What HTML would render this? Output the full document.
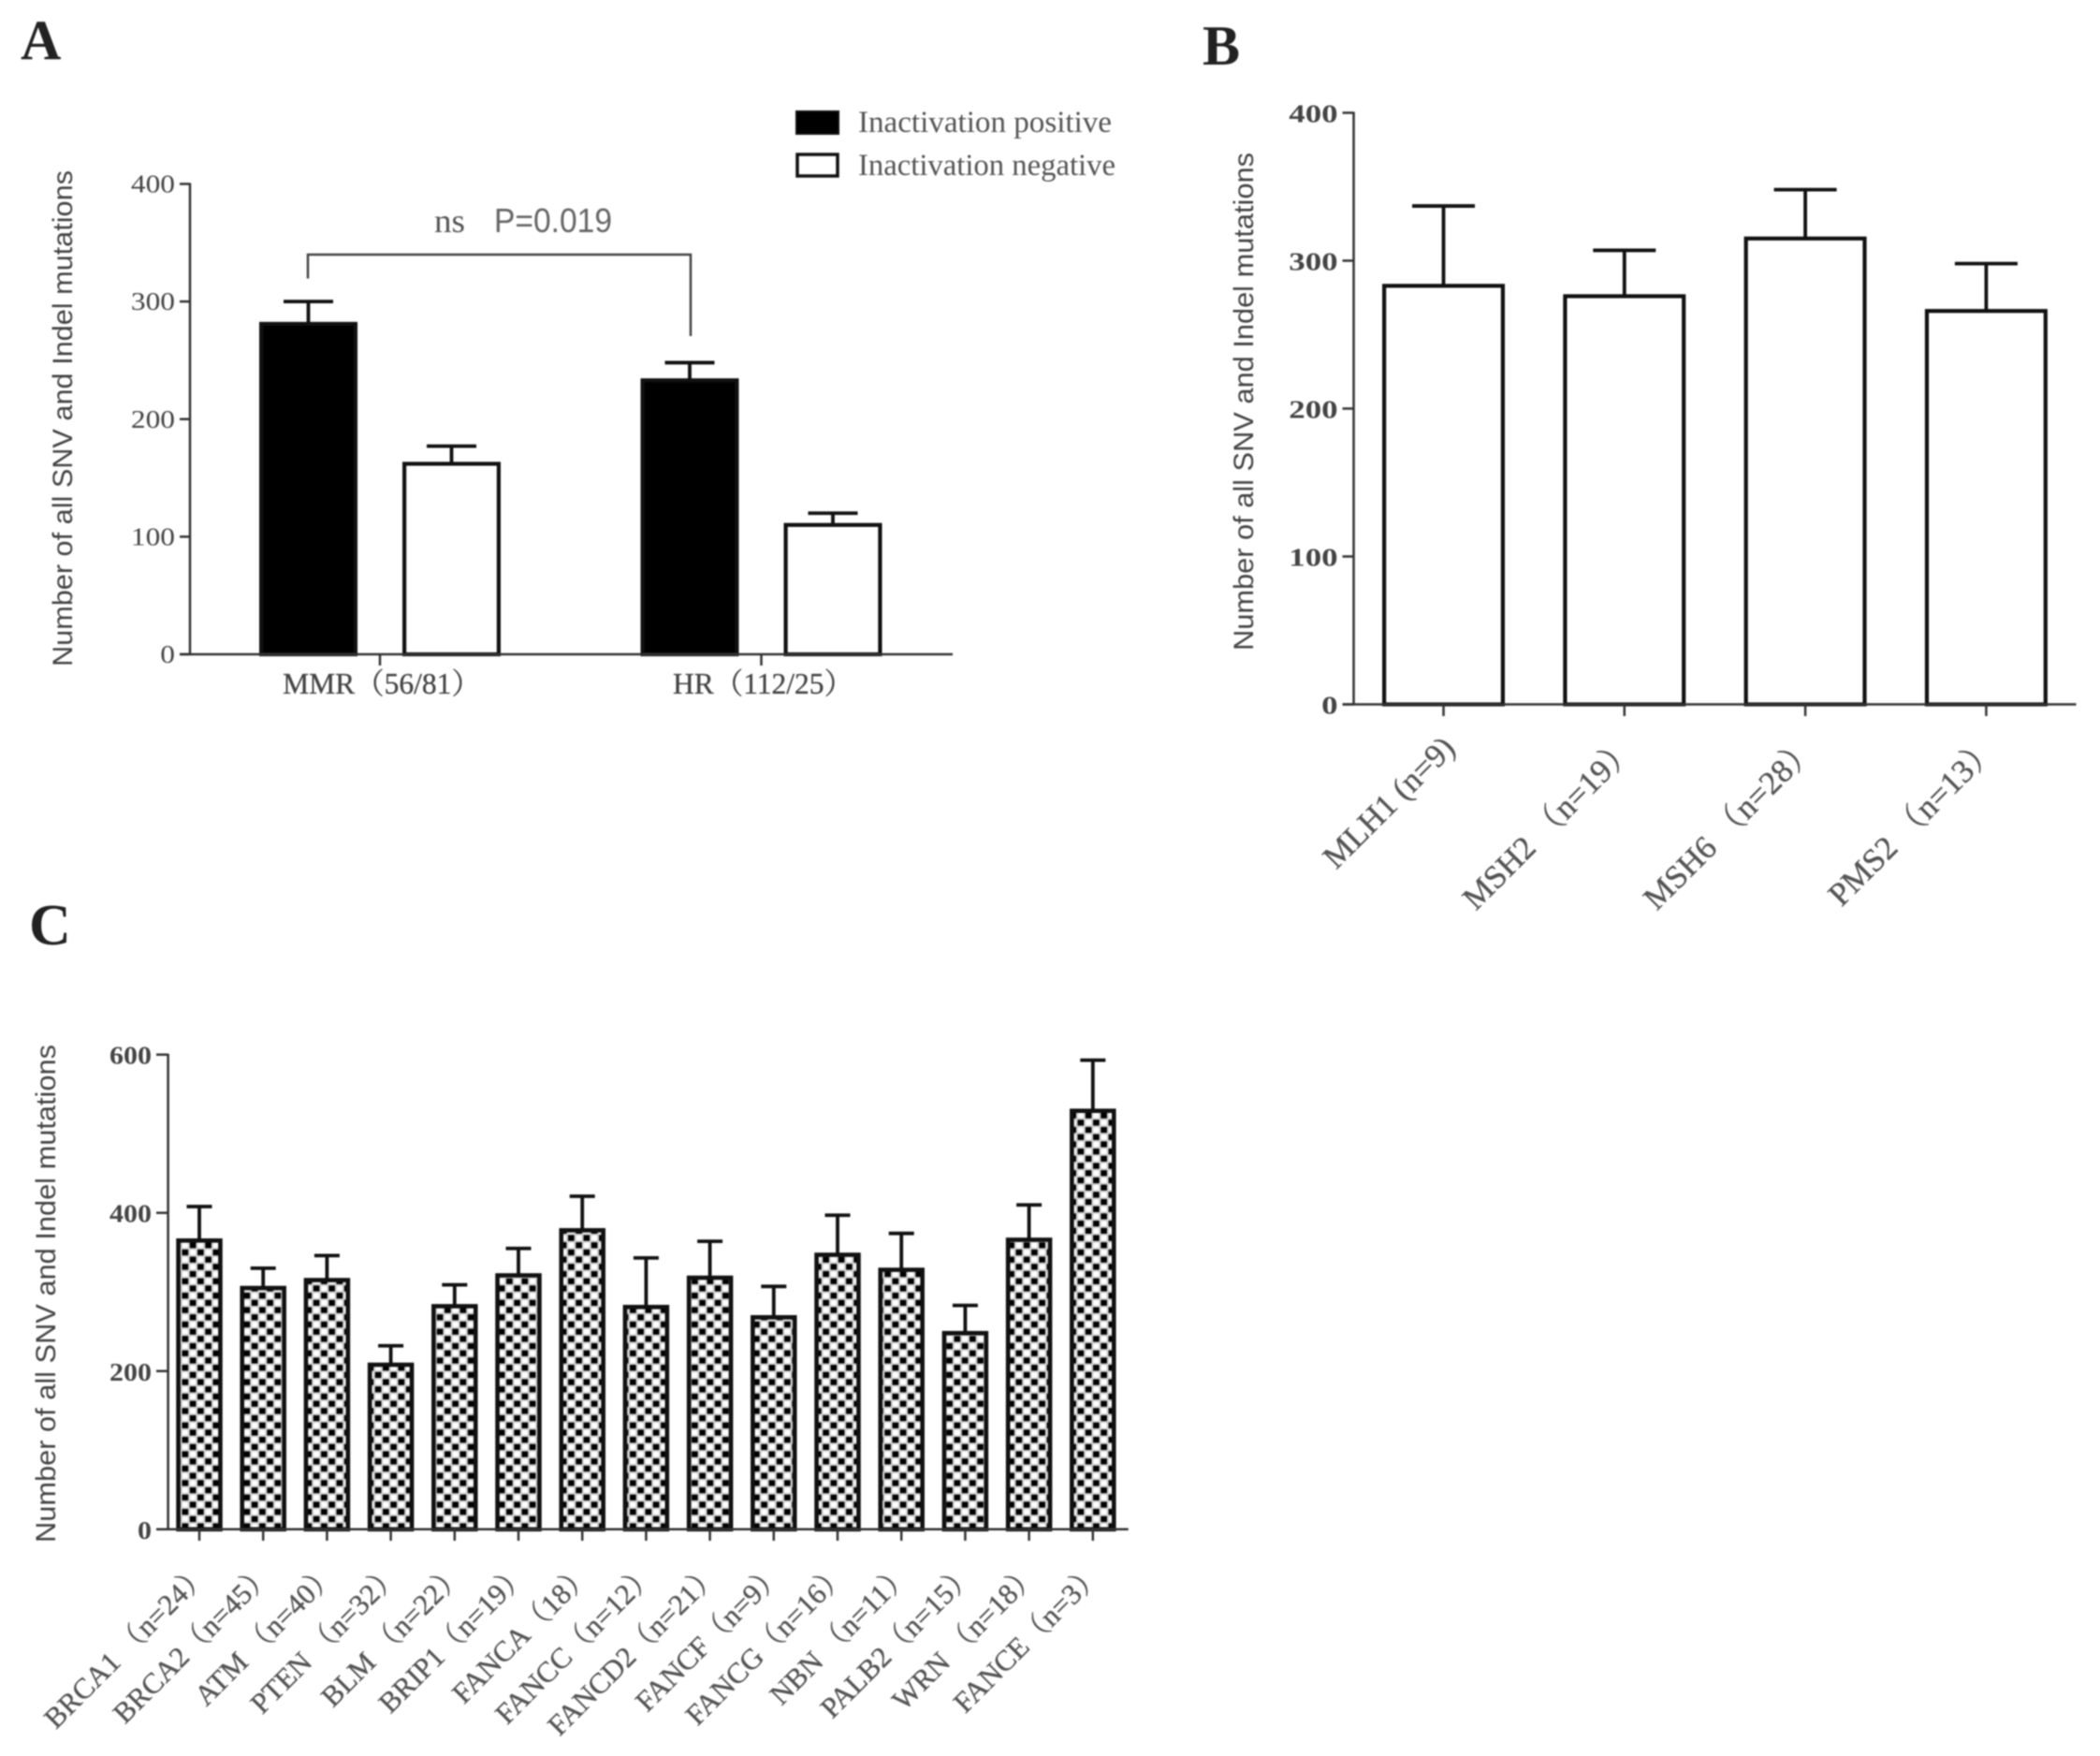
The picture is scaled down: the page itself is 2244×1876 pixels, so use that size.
<!DOCTYPE html>
<html lang="en">
<head>
<meta charset="utf-8">
<title>SNV and Indel mutation counts by gene inactivation</title>
<style>
html,body{margin:0;padding:0;background:#fff;width:2244px;height:1876px;overflow:hidden}
svg{display:block;filter:blur(.8px)}
.serif{font-family:"Liberation Serif","Noto Serif CJK SC",serif}
.sans{font-family:"Liberation Sans",sans-serif}
</style>
</head>
<body>
<svg id="figure" xmlns="http://www.w3.org/2000/svg" width="2244" height="1876" viewBox="0 0 2244 1876">
  <defs>
    <pattern id="dots" patternUnits="userSpaceOnUse" width="16.5" height="15.4" x="4" y="2">
      <rect width="16.5" height="15.4" fill="#cfcfcf"/>
      <rect x="0.8" y="0.8" width="6.6" height="6.2" fill="#000"/>
      <rect x="9.05" y="8.5" width="6.6" height="6.2" fill="#000"/>
      <rect x="9.4" y="1.2" width="5.8" height="5.4" fill="#fff"/>
      <rect x="1.2" y="8.9" width="5.8" height="5.4" fill="#fff"/>
    </pattern>
  </defs>
  <rect width="2244" height="1876" fill="#fff"/>

  <text class="serif" x="22" y="63" font-size="60" font-weight="bold" fill="#222">A</text>
  <text class="serif" x="1285" y="69" font-size="60" font-weight="bold" fill="#222">B</text>
  <text class="serif" x="31" y="1009" font-size="62" font-weight="bold" fill="#222">C</text>

  <g>
    <rect x="851" y="119" width="45" height="24" fill="#000" stroke="#111" stroke-width="2"/>
    <text class="serif" x="917" y="141" font-size="33" fill="#555" textLength="271" lengthAdjust="spacingAndGlyphs">Inactivation positive</text>
    <rect x="852" y="165" width="43" height="23" fill="#fff" stroke="#111" stroke-width="3.5"/>
    <text class="serif" x="917" y="187" font-size="33" fill="#555" textLength="275" lengthAdjust="spacingAndGlyphs">Inactivation negative</text>
  </g>

  <g>
    <path d="M329 297.5V272H738V359" fill="none" stroke="#444" stroke-width="2.5"/>
    <text class="serif" x="464" y="248" font-size="36" fill="#555" textLength="33" lengthAdjust="spacingAndGlyphs">ns</text>
    <text class="sans" x="528" y="248" font-size="36" fill="#666" textLength="126" lengthAdjust="spacingAndGlyphs">P=0.019</text>
  </g>

  <text class="sans" transform="translate(77 712) rotate(-90)" font-size="30" fill="#444" textLength="530" lengthAdjust="spacingAndGlyphs">Number of all SNV and Indel mutations</text>
  <text class="sans" transform="translate(1339 695) rotate(-90)" font-size="30" fill="#444" textLength="532" lengthAdjust="spacingAndGlyphs">Number of all SNV and Indel mutations</text>
  <text class="sans" transform="translate(59 1648) rotate(-90)" font-size="30" fill="#444" textLength="532" lengthAdjust="spacingAndGlyphs">Number of all SNV and Indel mutations</text>

  <g id="panel-a"></g>
  <g id="panel-b"></g>
  <g id="panel-c"></g>
</svg>

<script>
// Panel A data
const aCategories = ["MMR（56/81）", "HR（112/25）"];
const aSeriesNames = ["positive", "negative"];
const aPositiveValues = [281, 233];
const aPositiveErrorTops = [300, 248];
const aNegativeValues = [162, 110];
const aNegativeErrorTops = [177, 120];
const aTicks = [0, 100, 200, 300, 400];

// Panel B data
const bCategories = ["MLH1 (n=9)", "MSH2 （n=19）", "MSH6 （n=28）", "PMS2 （n=13）"];
const bValues = [283, 276, 315, 266];
const bErrorTops = [337, 307, 348, 298];
const bTicks = [0, 100, 200, 300, 400];

// Panel C data
const cCategories = ["BRCA1 （n=24）", "BRCA2（n=45）", "ATM （n=40）", "PTEN （n=32）", "BLM （n=22）", "BRIP1（n=19）", "FANCA（18）", "FANCC（n=12）", "FANCD2（n=21）", "FANCF（n=9）", "FANCG（n=16）", "NBN （n=11）", "PALB2（n=15）", "WRN （n=18）", "FANCE（n=3）"];
const cValues = [365, 305, 315, 208, 282, 321, 378, 281, 318, 268, 347, 328, 248, 366, 529];
const cErrorTops = [408, 330, 346, 232, 309, 355, 421, 343, 364, 307, 397, 374, 283, 410, 593];
const cTicks = [0, 200, 400, 600];

const NS = "http://www.w3.org/2000/svg";

function make(tag, attrs, parent) {
  const node = document.createElementNS(NS, tag);
  for (const key in attrs) node.setAttribute(key, attrs[key]);
  parent.appendChild(node);
  return node;
}

function linearScale(domainMax, zeroPx, topPx) {
  return function (v) { return zeroPx + (topPx - zeroPx) * v / domainMax; };
}

function drawAxes(parent, opts, ticks, y) {
  const yAxis = make("line", {x1: opts.axisX, x2: opts.axisX, y1: y(ticks[ticks.length - 1]) - 1, y2: y(0) + 1, stroke: "#333", "stroke-width": opts.axisWidth}, parent);
  
  
  const xAxis = make("line", {x1: opts.axisLeft, x2: opts.axisRight, y1: y(0), y2: y(0), stroke: "#333", "stroke-width": opts.axisWidth}, parent);
  
  
  ticks.forEach(function (t) {
    const tick = make("line", {x1: opts.axisLeft, x2: opts.axisX, y1: y(t), y2: y(t), stroke: "#333", "stroke-width": opts.axisWidth}, parent);
    
    
    const label = String(t);
    const text = make("text", {
      x: opts.labelRight, y: y(t) + opts.labelDy, "text-anchor": "end", "class": "serif",
      "font-size": 27, "font-weight": opts.labelWeight, fill: "#444",
      textLength: opts.labelDigitWidth * label.length, lengthAdjust: "spacingAndGlyphs"
    }, parent);
    text.textContent = label;
    
    
  });
}

function drawBar(parent, name, cx, width, value, errorTop, y, style) {
  const stem = make("line", {x1: cx, x2: cx, y1: y(value), y2: y(errorTop), stroke: "#111", "stroke-width": style.errorWidth}, parent);
  
  
  const cap = make("line", {x1: cx - style.capHalf, x2: cx + style.capHalf, y1: y(errorTop), y2: y(errorTop), stroke: "#111", "stroke-width": style.errorWidth}, parent);
  
  
  const inset = style.strokeWidth / 2;
  const bar = make("rect", {
    x: cx - width / 2 + inset, y: y(value), width: width - style.strokeWidth, height: y(0) - y(value),
    fill: style.fill, stroke: "#111", "stroke-width": style.strokeWidth
  }, parent);
  
  
}

function drawXTick(parent, name, cx, y0, tickEnd, width) {
  const tick = make("line", {x1: cx, x2: cx, y1: y0, y2: tickEnd, stroke: "#333", "stroke-width": width}, parent);
  
  
}

function drawRotatedLabel(parent, name, label, px, py, fontSize) {
  const text = make("text", {
    transform: "translate(" + px + " " + py + ") rotate(-45)", "text-anchor": "end",
    "class": "serif", "font-size": fontSize, fill: "#555", stroke: "#555", "stroke-width": 0.35
  }, parent);
  text.textContent = label;
  
  
}

/* Panel A */
(function () {
  const root = document.getElementById("panel-a");
  const y = linearScale(400, 699, 196.5);
  const groupX = function (i) { return 406 + 407.5 * i; };
  const seriesX = function (i, s) { return groupX(i) + (s - 0.5) * 153; };
  const seriesValues = [aPositiveValues, aNegativeValues];
  const seriesTops = [aPositiveErrorTops, aNegativeErrorTops];
  const fills = ["#000", "#fff"];
  aCategories.forEach(function (cat, i) {
    aSeriesNames.forEach(function (sName, s) {
      drawBar(root, "bar-" + cat.split("（")[0].toLowerCase() + "-" + sName, seriesX(i, s), 105, seriesValues[s][i], seriesTops[s][i], y,
        {errorWidth: 3.8, capHalf: 26.5, strokeWidth: 4.2, fill: fills[s]});
    });
    drawXTick(root, "x-tick-" + i, groupX(i), y(0), 711, 2.5);
    const label = make("text", {x: groupX(i) + 2, y: 741, "text-anchor": "middle", "class": "serif", "font-size": 31.5, fill: "#444", stroke: "#444", "stroke-width": 0.3}, root);
    label.textContent = cat;
    
    
  });
  drawAxes(root, {axisX: 203, axisLeft: 192, axisRight: 1018, axisWidth: 2.5, labelRight: 187, labelDy: 9, labelDigitWidth: 15.7, labelWeight: "normal"}, aTicks, y);
})();

/* Panel B */
(function () {
  const root = document.getElementById("panel-b");
  const y = linearScale(400, 752.5, 120.5);
  const xb = function (i) { return 1542.5 + 193.3 * i; };
  bCategories.forEach(function (cat, i) {
    drawBar(root, "bar-" + cat.split(" ")[0].toLowerCase(), xb(i), 131, bValues[i], bErrorTops[i], y,
      {errorWidth: 3.8, capHalf: 33.5, strokeWidth: 4.2, fill: "#fff"});
    drawXTick(root, "x-tick-" + i, xb(i), y(0), 765, 2.5);
    drawRotatedLabel(root, "x-tick-label-" + i, cat, xb(i) + 14, 801, 35);
  });
  drawAxes(root, {axisX: 1446.5, axisLeft: 1434.5, axisRight: 2218.5, axisWidth: 2.5, labelRight: 1429.5, labelDy: 10, labelDigitWidth: 17.4, labelWeight: "bold"}, bTicks, y);
})();

/* Panel C */
(function () {
  const root = document.getElementById("panel-c");
  const y = linearScale(600, 1633.8, 1126.7);
  const xc = function (i) { return 213 + 68.2 * i; };
  cCategories.forEach(function (cat, i) {
    drawBar(root, "bar-" + cat.split(/[ （]/)[0].toLowerCase(), xc(i), 49.5, cValues[i], cErrorTops[i], y,
      {errorWidth: 3.8, capHalf: 13.5, strokeWidth: 4.6, fill: "url(#dots)"});
    drawXTick(root, "x-tick-" + i, xc(i), y(0), 1646, 2.5);
    drawRotatedLabel(root, "x-tick-label-" + i, cat, xc(i) + 12, 1683, 31);
  });
  drawAxes(root, {axisX: 179.6, axisLeft: 167, axisRight: 1205.7, axisWidth: 2.5, labelRight: 162, labelDy: 10, labelDigitWidth: 15, labelWeight: "bold"}, cTicks, y);
})();
</script>
</body>
</html>
